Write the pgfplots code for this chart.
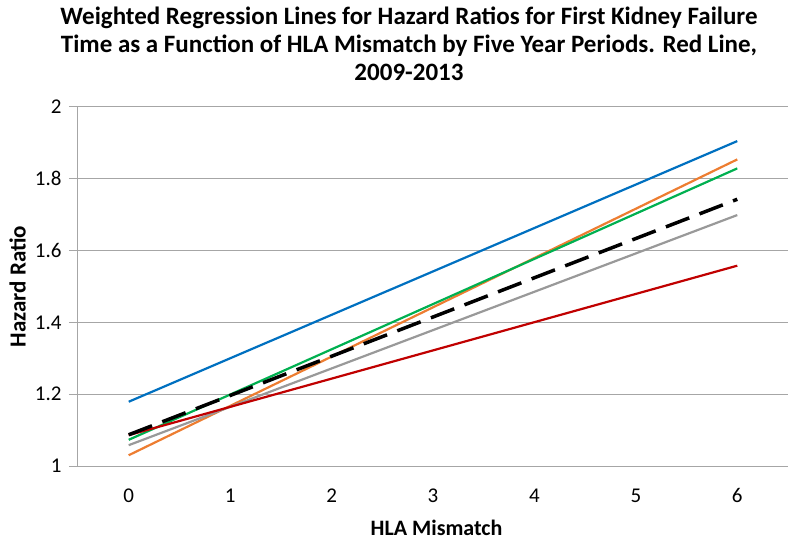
\documentclass[border=0pt]{standalone}
\usepackage{fontspec}
\setmainfont{Carlito}
\usepackage{pgfplots}
\pgfplotsset{compat=1.18}
\definecolor{cblue}{HTML}{0070C0}
\definecolor{corange}{HTML}{ED7D31}
\definecolor{cgreen}{HTML}{00B050}
\definecolor{cgray}{HTML}{999999}
\definecolor{cred}{HTML}{C00000}
\definecolor{axgray}{HTML}{A6A6A6}
\begin{document}
\begin{tikzpicture}
\begin{axis}[
  scale only axis, width=710pt, height=359pt,
  at={(0pt,0pt)}, anchor=south west,
  xmin=-0.5, xmax=6.5, ymin=1, ymax=2,
  axis x line=bottom, axis y line=left,
  axis line style={-, draw=axgray, line width=1pt},
  xtick={0,1,2,3,4,5,6},
  major x tick style={draw=none},
  extra x ticks={-0.5,0.5,1.5,2.5,3.5,4.5,5.5,6.5},
  extra x tick labels={},
  extra x tick style={major tick length=9pt, tick style={draw=axgray, line width=1pt}},
  ytick={1,1.2,1.4,1.6,1.8,2},
  tick align=outside,
  major tick length=9pt,
  y tick style={draw=axgray, line width=1pt},
  ymajorgrids,
  grid style={axgray, line width=1pt},
  /pgf/number format/assume math mode=true,
  ticklabel style={font=\fontsize{21}{25}\selectfont},
  xticklabel style={yshift=-10pt},
  yticklabel style={xshift=-4pt},
  xlabel={HLA Mismatch},
  ylabel={Hazard Ratio},
  label style={font=\bfseries\fontsize{22}{26}\selectfont},
  xlabel style={at={(axis description cs:0.505,-0.172)}, anchor=center},
  ylabel style={at={(axis description cs:-0.085,0.5)}, anchor=center, font=\bfseries\fontsize{23}{27}\selectfont},
  clip=false,
]
\addplot[cblue, line width=2.2pt] coordinates {(0,1.179) (6,1.905)};
\addplot[corange, line width=2.2pt] coordinates {(0,1.030) (6,1.854)};
\addplot[cgreen, line width=2.2pt] coordinates {(0,1.073) (6,1.829)};
\addplot[cgray, line width=2.2pt] coordinates {(0,1.058) (6,1.699)};
\addplot[cred, line width=2.2pt] coordinates {(0,1.086) (6,1.558)};
\addplot[black, line width=3.5pt, dash pattern=on 25pt off 11pt] coordinates {(0,1.087) (6,1.743)};
\end{axis}
\begin{scope}[every node/.style={font=\bfseries\fontsize{25}{30}\selectfont, anchor=base, inner sep=0pt}]
\node at (331pt,441pt) {Weighted Regression Lines for Hazard Ratios for First Kidney Failure};
\node at (331pt,413pt) {Time as a Function of HLA Mismatch by Five Year Periods. Red Line,};
\node at (331pt,385pt) {2009-2013};
\end{scope}
\pgfresetboundingbox
\path[use as bounding box] (-78pt,-75pt) rectangle (722pt,466pt);
\end{tikzpicture}
\end{document}
